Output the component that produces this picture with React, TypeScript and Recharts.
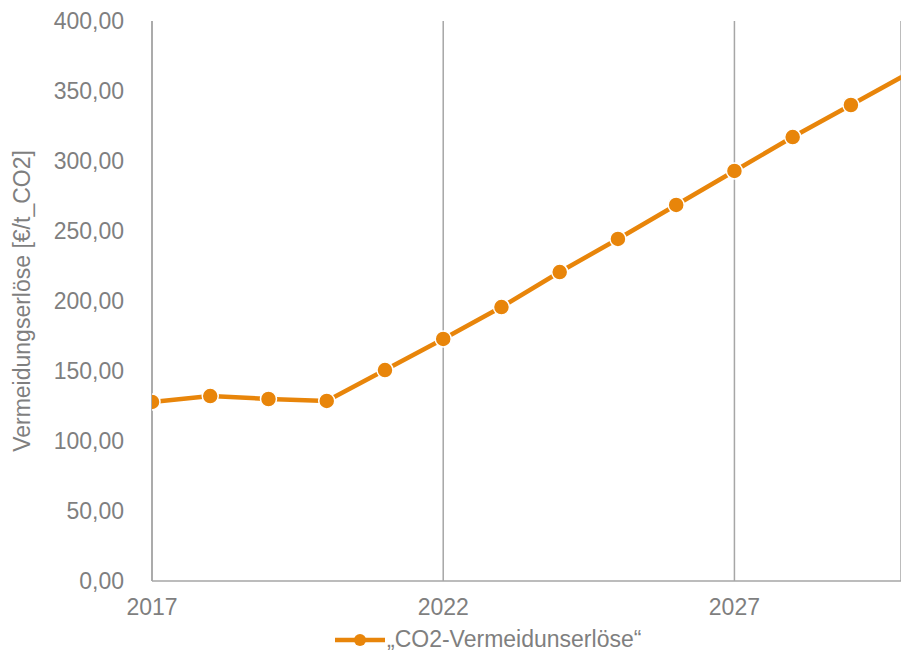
import React from "react";
import {
  LineChart,
  Line,
  XAxis,
  YAxis,
  CartesianGrid,
  Legend,
  Label,
} from "recharts";

const years = [2017, 2018, 2019, 2020, 2021, 2022, 2023, 2024, 2025, 2026, 2027, 2028, 2029, 2030];
const erloese = [127.9, 132.1, 130.0, 128.6, 150.7, 172.9, 195.7, 220.7, 244.3, 268.6, 292.9, 317.1, 340.0, 363.0];
const xTicks = [2017, 2022, 2027];
const yTicks = [0, 50, 100, 150, 200, 250, 300, 350, 400];

const seriesName = "\u201eCO2-Vermeidunserlöse\u201c";
const data = years.map((y, i) => ({ year: y, value: erloese[i] }));

const ORANGE = "#E8850A";
const TEXT = "#7f7f7f";
const AXIS = "#a6a6a6";
const FONT = "'Liberation Sans', Arial, sans-serif";

const fmt = (v: number) => v.toFixed(2).replace(".", ",");

function LegendContent() {
  return (
    <div style={{ width: 901, height: 34, position: "relative", fontFamily: FONT }}>
      <svg width={52} height={20} style={{ position: "absolute", left: 334, top: 9 }}>
        <line x1={1} y1={10} x2={51} y2={10} stroke={ORANGE} strokeWidth={4.5} />
        <circle cx={26} cy={10} r={6} fill={ORANGE} />
      </svg>
      <span
        style={{
          position: "absolute",
          left: 387,
          top: 5,
          fontSize: 23,
          color: TEXT,
          whiteSpace: "nowrap",
        }}
      >
        {seriesName}
      </span>
    </div>
  );
}

export default function App() {
  return (
    <div style={{ position: "absolute", left: 0, top: 0, background: "#fff" }}>
      <LineChart
        width={901}
        height={655}
        data={data}
        margin={{ top: 21, right: 0, left: 0, bottom: 0 }}
      >
        <CartesianGrid horizontal={false} stroke={AXIS} strokeWidth={1.5} />
        <XAxis
          dataKey="year"
          type="number"
          domain={[2017, 2029.86]}
          allowDataOverflow
          ticks={xTicks}
          tickLine={false}
          tickSize={0}
          tickMargin={18}
          height={40}
          stroke={AXIS}
          strokeWidth={1.5}
          tick={{ fill: TEXT, fontSize: 23, fontFamily: FONT }}
        />
        <YAxis
          type="number"
          domain={[0, 400]}
          ticks={yTicks}
          tickFormatter={fmt}
          tickLine={false}
          tickSize={0}
          tickMargin={28}
          width={152}
          stroke={AXIS}
          strokeWidth={1.5}
          tick={{ fill: TEXT, fontSize: 23, fontFamily: FONT }}
        >
          <Label
            value="Vermeidungserlöse [€/t_CO2]"
            angle={-90}
            position="insideLeft"
            offset={22}
            style={{ fill: TEXT, fontSize: 23, fontFamily: FONT, textAnchor: "middle" }}
          />
        </YAxis>
        <Legend verticalAlign="bottom" height={34} content={() => <LegendContent />} />
        <Line
          type="linear"
          dataKey="value"
          name={seriesName}
          stroke={ORANGE}
          strokeWidth={4.5}
          dot={{ r: 8, fill: ORANGE, stroke: "#fff", strokeWidth: 1.5 }}
          isAnimationActive={false}
        />
      </LineChart>
    </div>
  );
}
